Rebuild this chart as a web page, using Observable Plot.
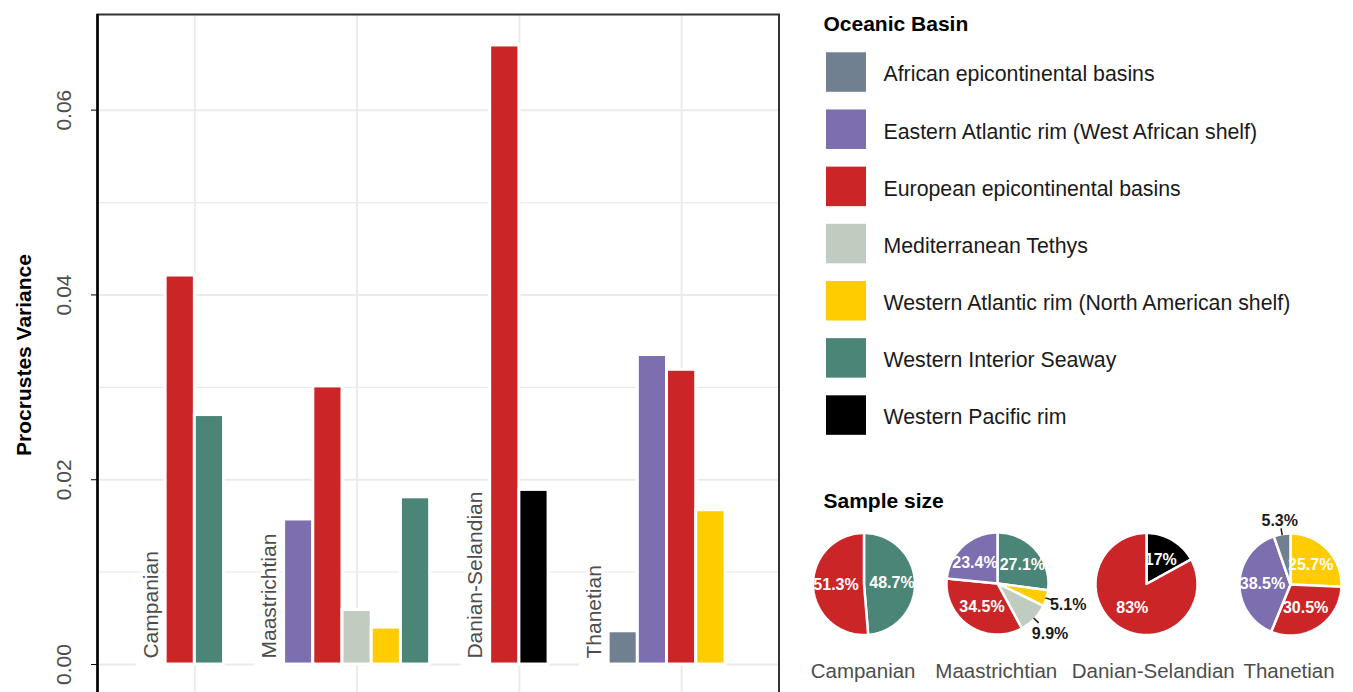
<!DOCTYPE html>
<html><head><meta charset="utf-8">
<script src="https://cdn.jsdelivr.net/npm/d3@7"></script>
<script src="https://cdn.jsdelivr.net/npm/@observablehq/plot@0.6"></script>
<style>
html,body{margin:0;padding:0;background:#fff;overflow:hidden;width:1353px;height:692px}
#bars{position:absolute;left:0;top:0}
#side{position:absolute;left:790px;top:0}
svg{font-family:"Liberation Sans",Arial,Helvetica,sans-serif}
</style></head>
<body><div id="bars"></div><div id="side"></div>
<script>
// ---------- data ----------
const periods = ["Campanian", "Maastrichtian", "Danian-Selandian", "Thanetian"];
const basins = [
  "African epicontinental basins",
  "Eastern Atlantic rim (West African shelf)",
  "European epicontinental basins",
  "Mediterranean Tethys",
  "Western Atlantic rim (North American shelf)",
  "Western Interior Seaway",
  "Western Pacific rim"
];
const basinColors = ["#708090", "#7d6eb0", "#cb2527", "#c1ccc0", "#ffcc00", "#4a8577", "#000000"];

// Procrustes variance (bar chart); null = empty dodge slot
const barPeriod = [
  "Campanian", "Campanian",
  "Maastrichtian", "Maastrichtian", "Maastrichtian", "Maastrichtian", "Maastrichtian",
  "Danian-Selandian", "Danian-Selandian",
  "Thanetian", "Thanetian", "Thanetian", "Thanetian", "Thanetian"
];
const barBasin = [
  "European epicontinental basins", "Western Interior Seaway",
  "Eastern Atlantic rim (West African shelf)", "European epicontinental basins", "Mediterranean Tethys", "Western Atlantic rim (North American shelf)", "Western Interior Seaway",
  "European epicontinental basins", "Western Pacific rim",
  "African epicontinental basins", "Eastern Atlantic rim (West African shelf)", "European epicontinental basins", "Western Atlantic rim (North American shelf)", "Western Interior Seaway"
];
const barVariance = [
  0.0421, 0.0270,
  0.0157, 0.0301, 0.0059, 0.0040, 0.0181,
  0.0670, 0.0189,
  0.0036, 0.0335, 0.0319, 0.0167, null
];
const yMajor = [0, 0.02, 0.04, 0.06];
const yMinor = [0.01, 0.03, 0.05];

// Sample size (pie charts), percent
const piePeriod = [
  "Campanian", "Campanian",
  "Maastrichtian", "Maastrichtian", "Maastrichtian", "Maastrichtian", "Maastrichtian",
  "Danian-Selandian", "Danian-Selandian",
  "Thanetian", "Thanetian", "Thanetian", "Thanetian"
];
const pieBasin = [
  "European epicontinental basins", "Western Interior Seaway",
  "Eastern Atlantic rim (West African shelf)", "European epicontinental basins", "Mediterranean Tethys", "Western Atlantic rim (North American shelf)", "Western Interior Seaway",
  "European epicontinental basins", "Western Pacific rim",
  "African epicontinental basins", "Eastern Atlantic rim (West African shelf)", "European epicontinental basins", "Western Atlantic rim (North American shelf)"
];
const piePercent = [51.3, 48.7, 23.4, 34.5, 9.9, 5.1, 27.1, 83, 17, 5.3, 38.5, 30.5, 25.7];

// ---------- layout ----------
const FONT = '"Liberation Sans",Arial,Helvetica,sans-serif';
const slotW = 0.18; // dodge slot width in category units
const barRows = barPeriod.map((p, i) => ({period: p, basin: barBasin[i], value: barVariance[i]}));
const bars = [], catLabels = [];
periods.forEach((p, pi) => {
  const g = barRows.filter(d => d.period === p);
  const n = g.length;
  g.forEach((d, j) => {
    const c = pi + 1 + (j - (n - 1) / 2) * slotW;
    if (d.value != null) bars.push({...d, x1: c - slotW / 2, x2: c + slotW / 2});
  });
  catLabels.push({period: p, x: pi + 1 + (-1 - (n - 1) / 2) * slotW});
});

const barChart = Plot.plot({
  width: 780, height: 696,
  marginLeft: 97, marginRight: 1.5, marginTop: 14, marginBottom: 1,
  style: {fontFamily: FONT, background: "white"},
  x: {domain: [0.4, 4.6], axis: null},
  y: {domain: [-0.00335, 0.07035], ticks: yMajor, tickSize: 6, tickFormat: () => "", label: null},
  color: {domain: basins, range: basinColors},
  marks: [
    Plot.ruleY(yMinor, {stroke: "#ebebeb", strokeWidth: 1.2}),
    Plot.ruleY(yMajor, {stroke: "#ebebeb", strokeWidth: 2}),
    Plot.ruleX([1, 2, 3, 4], {stroke: "#ebebeb", strokeWidth: 2}),
    Plot.rect(bars, {x1: "x1", x2: "x2", y1: 0, y2: "value", fill: "basin", stroke: "white", strokeWidth: 3}),
    // label boxes (white background behind the period labels)
    Plot.rect(catLabels, {x1: d => d.x - slotW / 2, x2: d => d.x + slotW / 2, y1: -0.0002, y2: 0.0004, fill: "white"}),
    Plot.text(catLabels, {x: "x", y: 0, text: "period", rotate: -90, textAnchor: "start", lineAnchor: "middle",
      dy: -6, fontSize: 21, fill: "#4d4d4d", stroke: "white", strokeWidth: 7, paintOrder: "stroke", strokeLinejoin: "round"}),
    Plot.frame({stroke: "#333", strokeWidth: 2}),
    Plot.ruleX([0.4], {stroke: "black", strokeWidth: 2.5}),
    Plot.text(yMajor, {y: d => d, text: d => d3.format(".2f")(d), frameAnchor: "left", rotate: -90,
      dx: -33.5, textAnchor: "middle", lineAnchor: "middle", fontSize: 21, fill: "#4d4d4d"}),
    Plot.text(["Procrustes Variance"], {text: d => d, frameAnchor: "left", rotate: -90, dx: -73.5,
      textAnchor: "middle", lineAnchor: "middle", fontSize: 21, fontWeight: "bold", fill: "black"})
  ]
});
document.getElementById("bars").appendChild(barChart);

// ---------- side: legend + pies ----------
const legendTop = 52.3, legendStep = 57.17, swH = 39.5;
const pieCenters = [[863.5, 583.5], [997, 583], [1146, 583.5], [1290, 584]];
const pieLabelX = [862.6, 995.8, 1152.7, 1288.5];
const pieR = 51;
const labelFS = 16;
const charW = c => (c === "." ? 0.278 : c === "%" ? 0.889 : 0.556);
const textW = s => [...s].reduce((a, c) => a + charW(c), 0) * labelFS;
const pieRows = piePeriod.map((p, i) => ({period: p, basin: pieBasin[i], pct: piePercent[i]}));
const slicePts = [], inLabels = [], outLabels = [], leaders = [];
periods.forEach((p, pi) => {
  const items = pieRows.filter(d => d.period === p).reverse();
  const [cx, cy] = pieCenters[pi];
  const mine = [];
  let a = 0;
  items.forEach(d => {
    const a0 = a, a1 = a + d.pct / 100 * 2 * Math.PI; a = a1;
    const id = p + "|" + d.basin;
    slicePts.push({id, basin: d.basin, x: cx, y: cy});
    const steps = Math.max(2, Math.ceil((a1 - a0) / (Math.PI / 120)));
    for (let s = 0; s <= steps; s++) {
      const t = a0 + (a1 - a0) * s / steps;
      slicePts.push({id, basin: d.basin, x: cx + pieR * Math.sin(t), y: cy - pieR * Math.cos(t)});
    }
    const m = (a0 + a1) / 2, sm = Math.sin(m), cm = Math.cos(m);
    const text = `${d.pct}%`, w = textW(text);
    if (d.pct >= 10) {
      const L = {x: cx + 28 * sm, y: cy - 28 * cm, text, w};
      inLabels.push(L); mine.push(L);
    } else {
      const dist = pieR + 3 + (w / 2) * Math.abs(sm) + 8 * Math.abs(cm);
      outLabels.push({x: cx + dist * sm, y: cy - dist * cm, text});
      leaders.push({x1: cx + (pieR - 1) * sm, y1: cy - (pieR - 1) * cm, x2: cx + (pieR + 6) * sm, y2: cy - (pieR + 6) * cm});
    }
  });
  // push overlapping inside labels apart horizontally
  for (let i = 0; i < mine.length; i++) for (let j = i + 1; j < mine.length; j++) {
    const A = mine[i], B = mine[j];
    if (Math.abs(A.y - B.y) < labelFS) {
      const need = (A.w + B.w) / 2 + 2, have = Math.abs(A.x - B.x);
      if (have < need) {
        const s = (need - have) / 2, dir = A.x < B.x ? -1 : 1;
        A.x += dir * s; B.x -= dir * s;
      }
    }
  }
});

const side = Plot.plot({
  width: 563, height: 692, margin: 0,
  style: {fontFamily: FONT, background: "transparent", overflow: "visible"},
  x: {domain: [790, 1353], axis: null},
  y: {domain: [0, 692], range: [0, 692], axis: null},
  color: {domain: basins, range: basinColors},
  marks: [
    Plot.text(["Oceanic Basin"], {x: 823, y: 23.3, text: d => d, textAnchor: "start", lineAnchor: "middle",
      fontSize: 21, fontWeight: "bold", fill: "black"}),
    Plot.rect(basins, {x1: 826, x2: 866, y1: (d, i) => legendTop + i * legendStep,
      y2: (d, i) => legendTop + i * legendStep + swH, fill: d => d}),
    Plot.text(basins, {x: 883, y: (d, i) => legendTop + i * legendStep + swH / 2 + 2, text: d => d,
      textAnchor: "start", lineAnchor: "middle", fontSize: 21.3, fill: "#1a1a1a"}),
    Plot.text(["Sample size"], {x: 823, y: 500.3, text: d => d, textAnchor: "start", lineAnchor: "middle",
      fontSize: 21, fontWeight: "bold", fill: "black"}),
    Plot.line(slicePts, {x: "x", y: "y", z: "id", fill: "basin", stroke: "white", strokeWidth: 2.5,
      curve: "linear-closed", strokeLinejoin: "round"}),
    Plot.text(inLabels, {x: "x", y: "y", text: "text", fontSize: labelFS, fontWeight: "bold", fill: "white",
      lineAnchor: "middle"}),
    Plot.link(leaders, {x1: "x1", y1: "y1", x2: "x2", y2: "y2", stroke: "#1a1a1a", strokeWidth: 1.5}),
    Plot.text(outLabels, {x: "x", y: "y", text: "text", fontSize: labelFS, fontWeight: "bold", fill: "#1a1a1a",
      lineAnchor: "middle"}),
    Plot.text(periods, {x: (d, i) => pieLabelX[i], y: 670.5, text: d => d, fontSize: 20.5, fill: "#4d4d4d",
      lineAnchor: "middle"})
  ]
});
document.getElementById("side").appendChild(side);
</script>
</body></html>
